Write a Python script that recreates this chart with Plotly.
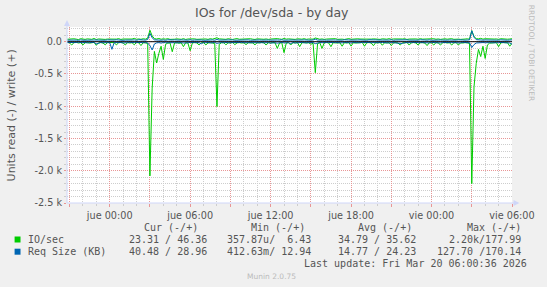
import plotly.graph_objects as go
import pandas as pd

# ---------------- data ----------------
start_time = "2026-03-18 20:50"
step = "10min"

# IO/sec (read plotted negative, write positive)
io_read = [
    12, 18, 51, 15, 9, 20, 14, 50, 17, 11, 22, 16, 10, 55, 19, 13, 21, 48, 15, 12,
    18, 14, 50, 16, 11, 19, 50, 13, 20, 15, 48, 12, 17, 60, 14, 19, 25, 2080, 720, 150,
    330, 180, 70, 275, 40, 22, 18, 155, 20, 14, 24, 17, 77, 15, 21, 140, 18, 13, 20, 50,
    16, 12, 50, 19, 14, 21, 30, 1005, 40, 17, 13, 48, 16, 20, 12, 45, 18, 14, 21, 15,
    45, 16, 12, 19, 48, 14, 20, 11, 17, 52, 15, 21, 13, 18, 103, 20, 16, 170, 22, 14,
    51, 15, 19, 12, 77, 17, 13, 20, 15, 40, 24, 480, 30, 16, 103, 18, 12, 20, 77, 14,
    19, 13, 17, 70, 15, 20, 12, 68, 16, 21, 14, 18, 11, 70, 17, 13, 20, 62, 15, 19,
    12, 55, 16, 20, 13, 60, 18, 14, 21, 52, 15, 19, 12, 52, 17, 13, 20, 52, 16, 14,
    21, 60, 15, 18, 52, 13, 19, 52, 16, 12, 20, 15, 52, 18, 13, 52, 17, 21, 14, 19,
    25, 2200, 700, 335, 120, 230, 70, 260, 50, 22, 16, 19, 13, 77, 18, 14, 20, 16, 70, 23.31,
]
io_write = [
    38, 42, 35, 45, 40, 33, 47, 39, 36, 44, 41, 37, 50, 34, 43, 39, 46, 36, 41, 38,
    44, 37, 40, 48, 35, 42, 39, 45, 36, 41, 52, 38, 43, 37, 46, 40, 55, 178, 90, 48,
    42, 50, 38, 45, 40, 47, 36, 43, 39, 44, 41, 37, 48, 35, 42, 46, 39, 44, 37, 41,
    45, 38, 43, 36, 47, 40, 55, 60, 44, 39, 42, 37, 46, 40, 35, 43, 48, 38, 41, 44,
    37, 42, 46, 39, 35, 44, 40, 47, 38, 43, 36, 41, 45, 39, 48, 42, 37, 50, 40, 44,
    38, 43, 36, 45, 41, 39, 47, 37, 42, 44, 40, 58, 46, 38, 43, 36, 41, 45, 39, 42,
    47, 37, 44, 40, 35, 43, 48, 38, 42, 36, 45, 41, 39, 46, 37, 43, 40, 44, 38, 42,
    36, 45, 41, 39, 47, 38, 43, 40, 44, 37, 42, 46, 35, 41, 45, 39, 43, 38, 47, 40,
    42, 37, 44, 40, 46, 38, 43, 36, 41, 45, 39, 42, 47, 37, 44, 40, 36, 43, 41, 45,
    39, 172, 80, 48, 44, 52, 40, 46, 42, 38, 45, 41, 43, 37, 46, 40, 44, 39, 42, 46.36,
]
# Req Size (KB)
req_read = [
    12, 15, 10, 18, 13, 9, 16, 14, 11, 19, 13, 17, 10, 35, 22, 12, 16, 11, 14, 13,
    118, 14, 11, 16, 13, 19, 12, 15, 10, 17, 14, 12, 18, 13, 16, 11, 20, 60, 128, 35,
    18, 14, 22, 12, 16, 13, 19, 11, 15, 17, 12, 14, 20, 13, 16, 11, 18, 14, 12, 15,
    32, 13, 16, 11, 19, 14, 12, 25, 15, 13, 18, 11, 16, 14, 12, 19, 13, 17, 11, 15,
    14, 18, 12, 16, 13, 19, 11, 15, 17, 12, 14, 20, 13, 16, 22, 14, 12, 18, 13, 15,
    30, 12, 19, 13, 15, 11, 17, 14, 12, 18, 13, 30, 16, 12, 15, 19, 13, 11, 17, 14,
    12, 16, 13, 18, 11, 15, 14, 19, 12, 16, 13, 17, 11, 15, 18, 12, 14, 16, 13, 17,
    14, 11, 16, 13, 19, 12, 15, 17, 11, 14, 28, 13, 16, 12, 15, 11, 17, 14, 13, 16,
    12, 15, 18, 11, 14, 16, 13, 19, 12, 15, 11, 17, 14, 13, 16, 12, 18, 11, 15, 14,
    16, 90, 45, 20, 15, 18, 13, 16, 12, 14, 17, 11, 15, 13, 18, 12, 16, 14, 19, 40.48,
]
req_write = [
    24, 27, 22, 29, 25, 21, 28, 23, 26, 30, 22, 25, 27, 24, 21, 29, 26, 23, 28, 25,
    22, 26, 30, 24, 27, 21, 25, 29, 23, 26, 28, 22, 31, 24, 27, 25, 35, 130, 60, 29,
    25, 28, 23, 27, 22, 30, 24, 26, 29, 21, 25, 28, 23, 27, 24, 30, 22, 26, 28, 24,
    27, 22, 26, 29, 24, 28, 23, 35, 25, 27, 22, 26, 30, 24, 28, 23, 25, 29, 22, 26,
    24, 28, 23, 26, 30, 22, 27, 25, 29, 23, 26, 24, 28, 22, 27, 25, 30, 23, 26, 28,
    23, 27, 25, 29, 22, 26, 28, 24, 30, 23, 27, 40, 25, 29, 22, 26, 24, 28, 23, 27,
    26, 22, 28, 24, 30, 23, 27, 25, 29, 22, 26, 28, 24, 27, 23, 29, 25, 22, 28, 26,
    24, 29, 23, 27, 25, 30, 22, 26, 28, 24, 27, 23, 29, 25, 22, 28, 26, 24, 30, 23,
    27, 24, 29, 22, 26, 28, 23, 27, 25, 30, 24, 26, 22, 28, 25, 29, 23, 27, 24, 26,
    28, 170, 70, 32, 26, 29, 24, 27, 25, 30, 23, 28, 26, 24, 29, 25, 27, 23, 26, 28.96,
]

x_range = ["2026-03-18 20:49", "2026-03-20 06:00"]
x_tick_times = [
    "2026-03-18 21:00", "2026-03-19 00:00", "2026-03-19 03:00", "2026-03-19 06:00",
    "2026-03-19 09:00", "2026-03-19 12:00", "2026-03-19 15:00", "2026-03-19 18:00",
    "2026-03-19 21:00", "2026-03-20 00:00", "2026-03-20 03:00", "2026-03-20 06:00",
]
x_tick_labels = ["", "jue 00:00", "", "jue 06:00", "", "jue 12:00", "", "jue 18:00",
                 "", "vie 00:00", "", "vie 06:00"]
y_tick_vals = [0, -500, -1000, -1500, -2000, -2500]
y_tick_labels = ["0.0", "-0.5 k", "-1.0 k", "-1.5 k", "-2.0 k", "-2.5 k"]
y_range = [-2500, 228]

series_names = ["IO/sec", "Req Size (KB)"]
series_colors = ["#00CC00", "#0066B3"]
cur_txt = ["23.31 / 46.36", "40.48 / 28.96"]
min_txt = ["357.87u/\u00a0\u00a06.43", "412.63m/ 12.94"]
avg_txt = ["34.79 / 35.62", "14.77 / 24.23"]
max_txt = ["2.20k/177.99", "127.70 /170.14"]

title = "IOs for /dev/sda - by day"
y_title = "Units read (-) / write (+)"
last_update = "Last update: Fri Mar 20 06:00:36 2026"

# ---------------- figure ----------------
W, H = 547, 287
L, R, T, B = 67, 30, 27, 84
PW, PH = W - L - R, H - T - B


def px(x):
    return (x - L) / PW


def py(y):
    return (H - B - y) / PH


times = pd.date_range(start_time, periods=len(io_read), freq=step)

fig = go.Figure()
series = [(io_read, io_write, series_colors[0], series_names[0]),
          (req_read, req_write, series_colors[1], series_names[1])]
for rd, wr, col, name in series:
    fig.add_trace(go.Scatter(x=times, y=[-v for v in rd], mode="lines",
                             line=dict(color=col, width=1), name=name,
                             showlegend=False, hoverinfo="skip"))
    fig.add_trace(go.Scatter(x=times, y=wr, mode="lines",
                             line=dict(color=col, width=1), name=name,
                             showlegend=False, hoverinfo="skip"))

MGRID = "rgb(232,150,150)"
GRID = "rgb(205,205,205)"
AXIS = "#CFD6F8"
FONT = "#555555"
tickfont = dict(family="DejaVu Sans", size=9.7, color=FONT)

fig.update_xaxes(
    type="date", range=x_range, tickmode="array", tickvals=x_tick_times,
    ticktext=x_tick_labels, showgrid=True, gridcolor=MGRID, griddash="1px,1px",
    gridwidth=1, ticks="outside", ticklen=3, tickcolor=MGRID, tickfont=tickfont,
    showline=False, zeroline=False,
    minor=dict(tickmode="linear", tick0="2026-03-18 21:00", dtick=3600000,
               showgrid=True, gridcolor=GRID, griddash="1px,1px", gridwidth=1,
               ticks="outside", ticklen=2, tickcolor=GRID),
)
fig.update_yaxes(
    range=y_range, tickmode="array", tickvals=y_tick_vals, ticktext=y_tick_labels,
    showgrid=True, gridcolor=MGRID, griddash="1px,1px", gridwidth=1,
    ticks="outside", ticklen=2, tickcolor=MGRID, tickfont=tickfont,
    showline=False, zeroline=False,
    minor=dict(tickmode="linear", tick0=0, dtick=100, showgrid=True,
               gridcolor=GRID, griddash="1px,1px", gridwidth=1,
               ticks="outside", ticklen=2, tickcolor=GRID),
)

shapes = []
# zero line
shapes.append(dict(type="line", xref="paper", yref="y", x0=0, x1=1, y0=0, y1=0,
                   line=dict(color="black", width=1), layer="above"))
# axis lines and arrows
shapes.append(dict(type="line", xref="paper", yref="paper", x0=px(67), x1=px(67),
                   y0=py(203), y1=py(22), line=dict(color=AXIS, width=1)))
shapes.append(dict(type="line", xref="paper", yref="paper", x0=px(67), x1=px(521),
                   y0=py(203), y1=py(203), line=dict(color=AXIS, width=1)))
shapes.append(dict(type="path", xref="paper", yref="paper",
                   path=f"M {px(67)} {py(20)} L {px(64)} {py(26)} L {px(70)} {py(26)} Z",
                   fillcolor=AXIS, line=dict(width=0)))
shapes.append(dict(type="path", xref="paper", yref="paper",
                   path=f"M {px(524.5)} {py(203)} L {px(518.5)} {py(200)} L {px(518.5)} {py(206)} Z",
                   fillcolor=AXIS, line=dict(width=0)))
# legend swatches
for i, col in enumerate(series_colors):
    yc = 239.5 + i * 12.2
    shapes.append(dict(type="rect", xref="paper", yref="paper",
                       x0=px(14), x1=px(20), y0=py(yc - 3), y1=py(yc + 3),
                       fillcolor=col, line=dict(width=0)))

mono = dict(family="DejaVu Sans Mono", size=10, color=FONT)
ann = []


def text(x, y, s, anchor, font, **kw):
    ann.append(dict(x=px(x), y=py(y), xref="paper", yref="paper", text=s,
                    showarrow=False, xanchor=anchor, yanchor="middle",
                    borderpad=0, font=font, **kw))


text(274, 12, title, "center", dict(family="DejaVu Sans", size=12.5, color=FONT))
text(10.8, 115, y_title, "center", dict(family="DejaVu Sans", size=11, color=FONT),
     textangle=-90)
text(537, 53.5, "RRDTOOL / TOBI OETIKER", "center",
     dict(family="DejaVu Sans", size=7.5, color="#BBBBBB"), textangle=90)

hdr_y = 227.4
text(200, hdr_y, "Cur (-/+)", "right", mono)
text(309, hdr_y, "Min (-/+)", "right", mono)
text(417, hdr_y, "Avg (-/+)", "right", mono)
text(526.7, hdr_y, "Max (-/+)", "right", mono)
for i in range(2):
    yc = 239.2 + i * 11.9
    text(26.7, yc, series_names[i].replace(" ", "\u00a0"), "left", mono)
    text(209.3, yc, cur_txt[i], "right", mono)
    text(315, yc, min_txt[i], "right", mono)
    text(421, yc, avg_txt[i], "right", mono)
    text(526.7, yc, max_txt[i], "right", mono)
text(533.3, 263, last_update, "right", mono)
text(248.3, 276, "Munin 2.0.75", "left",
     dict(family="DejaVu Sans", size=7.5, color="#BBBBBB"))

fig.update_layout(
    width=W, height=H, margin=dict(l=L, r=R, t=T, b=B, pad=0),
    paper_bgcolor="#F0F0F0", plot_bgcolor="#FFFFFF",
    shapes=shapes, annotations=ann, showlegend=False,
    font=dict(family="DejaVu Sans", color=FONT),
)

fig.write_html("out.html", config={"displayModeBar": False})
